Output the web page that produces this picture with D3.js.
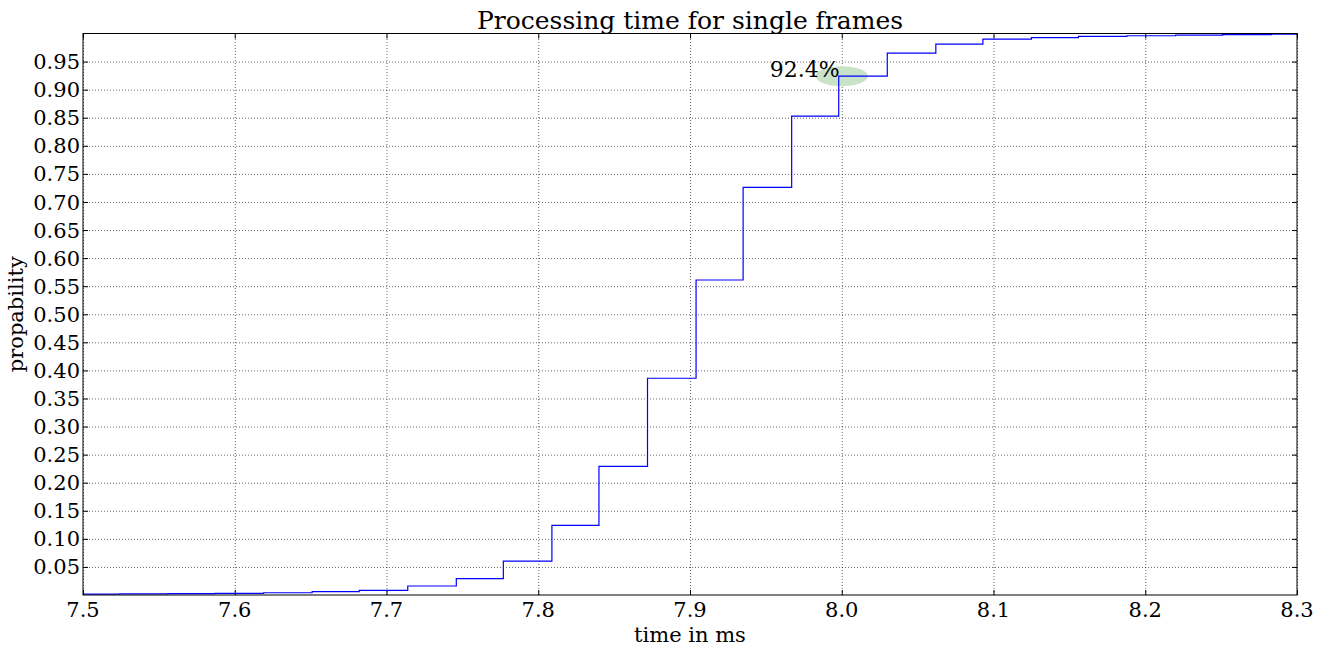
<!DOCTYPE html>
<html>
<head>
<meta charset="utf-8">
<script src="https://cdn.jsdelivr.net/npm/d3@7"></script>
<style>
  body { margin: 0; background: #fff; }
  svg { display: block; font-family: "DejaVu Serif", serif; }
  .grid line { stroke: #000; stroke-width: 0.6; stroke-dasharray: 1,2; }
  .grid path { display: none; }
  .ticks path { display: none; }
  .ticks line { stroke: #000; stroke-width: 1; }
</style>
</head>
<body>
<svg width="1327" height="650"></svg>
<script>
// bin edges (ms) and cumulative probability after each edge
const EDGES = [7.5, 7.524, 7.556, 7.587, 7.619, 7.651, 7.682, 7.714, 7.746, 7.777,
  7.809, 7.840, 7.872, 7.904, 7.935, 7.967, 7.998, 8.030, 8.062, 8.093,
  8.125, 8.156, 8.188, 8.220, 8.251, 8.283, 8.3];
const PROBS = [0.0015, 0.002, 0.0023, 0.003, 0.004, 0.0059, 0.0084, 0.016, 0.029, 0.0605,
  0.124, 0.229, 0.386, 0.561, 0.726, 0.853, 0.924, 0.965, 0.981, 0.990,
  0.9925, 0.995, 0.996, 0.997, 0.998, 0.999, 0.999];

const X_TICKS = [7.5, 7.6, 7.7, 7.8, 7.9, 8.0, 8.1, 8.2, 8.3];
const Y_TICKS = [0.05, 0.10, 0.15, 0.20, 0.25, 0.30, 0.35, 0.40, 0.45, 0.50,
  0.55, 0.60, 0.65, 0.70, 0.75, 0.80, 0.85, 0.90, 0.95];

const MARK_X = 8.0;
const MARK_P = 0.924;
const MARK_LABEL = '92.4%';

const padL = 83, padR = 1297, padT = 33.5, padB = 595;

const xScale = d3.scaleLinear().domain([7.5, 8.3]).range([padL, padR]);
const yScale = d3.scaleLinear().domain([0, 1]).range([padB, padT]);

const svg = d3.select('svg');

// grid
svg.append('g').attr('class', 'grid')
  .attr('transform', `translate(0,${padB})`)
  .call(d3.axisBottom(xScale).tickValues(X_TICKS).tickSize(-(padB - padT)).tickFormat(''));
svg.append('g').attr('class', 'grid')
  .attr('transform', `translate(${padL},0)`)
  .call(d3.axisLeft(yScale).tickValues(Y_TICKS).tickSize(-(padR - padL)).tickFormat(''));

// ticks pointing inward on all four sides
svg.append('g').attr('class', 'ticks')
  .attr('transform', `translate(0,${padB})`)
  .call(d3.axisBottom(xScale).tickValues(X_TICKS).tickSize(-5).tickFormat(''));
svg.append('g').attr('class', 'ticks')
  .attr('transform', `translate(0,${padT})`)
  .call(d3.axisTop(xScale).tickValues(X_TICKS).tickSize(-5).tickFormat(''));
svg.append('g').attr('class', 'ticks')
  .attr('transform', `translate(${padL},0)`)
  .call(d3.axisLeft(yScale).tickValues(Y_TICKS).tickSize(-5).tickFormat(''));
svg.append('g').attr('class', 'ticks')
  .attr('transform', `translate(${padR},0)`)
  .call(d3.axisRight(yScale).tickValues(Y_TICKS).tickSize(-5).tickFormat(''));

// tick labels
svg.append('g').selectAll('text')
  .data(X_TICKS)
  .enter()
  .append('text')
  .attr('x', d => xScale(d))
  .attr('y', 617)
  .attr('text-anchor', 'middle')
  .style('font-size', '21px')
  .text(d => d.toFixed(1));

svg.append('g').selectAll('text')
  .data(Y_TICKS)
  .enter()
  .append('text')
  .attr('x', padL - 3)
  .attr('y', d => yScale(d))
  .attr('dy', '0.36em')
  .attr('text-anchor', 'end')
  .style('font-size', '21px')
  .text(d => d.toFixed(2));

// annotation ellipse + label
svg.append('ellipse')
  .attr('cx', xScale(MARK_X))
  .attr('cy', yScale(MARK_P))
  .attr('rx', 26)
  .attr('ry', 10)
  .attr('fill', '#c9e3c9');

svg.append('text')
  .attr('x', xScale(MARK_X) - 2)
  .attr('y', yScale(MARK_P) + 1)
  .attr('text-anchor', 'end')
  .style('font-size', '22px')
  .text(MARK_LABEL);

// cumulative step line
const line = d3.line()
  .x((d, i) => xScale(EDGES[i]))
  .y(d => yScale(d))
  .curve(d3.curveStepAfter);

svg.append('path')
  .datum(PROBS)
  .attr('d', line)
  .attr('fill', 'none')
  .attr('stroke', '#0000ff')
  .attr('stroke-width', 1.2);

// frame
svg.append('rect')
  .attr('x', padL).attr('y', padT)
  .attr('width', padR - padL).attr('height', padB - padT)
  .attr('fill', 'none').attr('stroke', '#000').attr('stroke-width', 1);

// titles
svg.append('text')
  .attr('x', (padL + padR) / 2)
  .attr('y', 29)
  .attr('text-anchor', 'middle')
  .style('font-size', '25px')
  .text('Processing time for single frames');

svg.append('text')
  .attr('x', (padL + padR) / 2)
  .attr('y', 642)
  .attr('text-anchor', 'middle')
  .style('font-size', '21px')
  .text('time in ms');

svg.append('text')
  .attr('transform', `translate(23,${(padT + padB) / 2}) rotate(-90)`)
  .attr('text-anchor', 'middle')
  .style('font-size', '21px')
  .text('propability');
</script>
</body>
</html>
